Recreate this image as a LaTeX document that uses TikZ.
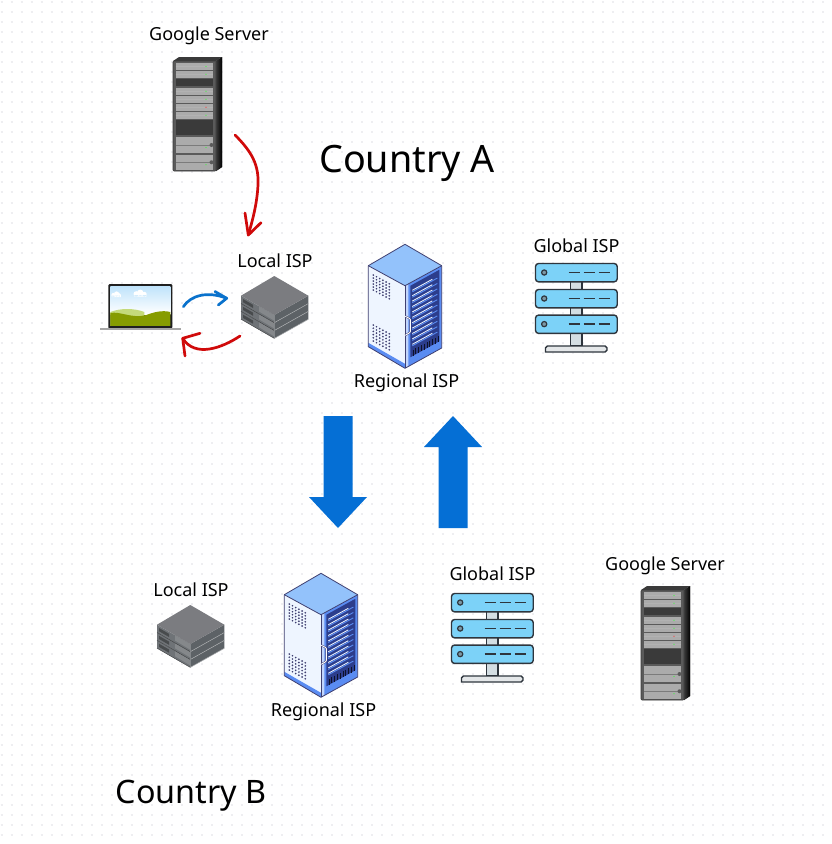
\documentclass[tikz,border=0pt]{standalone}
\usepackage{fontspec}
\setmainfont{Noto Sans}
\usetikzlibrary{arrows.meta}
\definecolor{gridc}{HTML}{EEEEF1}
\definecolor{bigblue}{HTML}{056FD5}
\definecolor{curvered}{HTML}{D00A0A}
\definecolor{curveblue}{HTML}{0A72CC}
\definecolor{rackbody}{HTML}{5A5A5A}
\definecolor{rackunit}{HTML}{ABABAB}
\definecolor{rackdark}{HTML}{3A3A3A}
\definecolor{cabtop}{HTML}{93C2FB}
\definecolor{cabside}{HTML}{EEF5FF}
\definecolor{cabline}{HTML}{3F3F70}
\definecolor{cabblue}{HTML}{5A8CF2}
\definecolor{cabdeep}{HTML}{2C3D8C}
\definecolor{srvblue}{HTML}{7CD2F8}
\definecolor{srvline}{HTML}{2E353D}
\definecolor{srvstem}{HTML}{D4DEE3}
\definecolor{srvbase}{HTML}{E4E7E9}
\definecolor{stktop}{HTML}{7B7C80}
\definecolor{stkleft}{HTML}{6F7377}
\definecolor{stkright}{HTML}{5D6266}
\definecolor{stkpanel}{HTML}{85888B}
\definecolor{skytop}{HTML}{BFE3FB}
\definecolor{hilllight}{HTML}{C4DA7A}
\definecolor{hilldark}{HTML}{869C00}
\tikzset{
  lbl/.style={inner sep=0pt,font=\fontsize{18}{21}\selectfont,text=black},
  titlea/.style={inner sep=0pt,font=\fontsize{37.7}{44}\selectfont,text=black},
  titleb/.style={inner sep=0pt,font=\fontsize{32.3}{38}\selectfont,text=black},
  handred/.style={draw=curvered,line width=2.7pt,line cap=round,line join=round},
  handblue/.style={draw=curveblue,line width=2.7pt,line cap=round,line join=round},
  bigarrow/.style={fill=bigblue,draw=none},
  pics/rackpic/.style={code={
    \fill[left color=rackdark,right color=black] (43,4) -- (49,0) -- (49,110) -- (43,114) -- cycle;
    \fill[rackdark] (0,4) -- (6,0) -- (49,0) -- (43,4) -- cycle;
    \fill[rackbody,draw=rackdark,line width=0.6pt,rounded corners=1pt] (0,4) rectangle (43,114);
    \foreach \a/\b/\l in {6/13/green,14/20.5/green,31/37.5/green,39/45.5/green,47/53.5/red,55/61.5/green}{
      \fill[rackunit] (2.5,\a) rectangle (40,\b);
      \draw[gray!60!white,line width=0.3pt] (2.5,{(\a+\b)/2}) -- (40,{(\a+\b)/2});
      \fill[\l!80!white] (33,{(\a+\b)/2}) circle (0.7);
    }
    \fill[rackdark] (2.5,22) rectangle (40,28.5);
    \fill[rackdark] (2.5,62.5) rectangle (40,78);
    \foreach \a/\b in {80/96,97.5/113}{
      \fill[rackunit] (2.5,\a) rectangle (40,\b);
      \draw[rackbody!80!white,line width=0.5pt] (2.5,{(\a+\b)/2}) -- (40,{(\a+\b)/2});
      \fill[rackbody] (38.5,{(\a+\b)/2}) circle (2);
      \fill[green!80!white] (33,{(\a+\b)/2+2.5}) circle (0.7);
    }
  }},
  pics/cabinet/.style={code={
    % left face
    \fill[cabside] (0,21.4) -- (36.7,41.4) -- (36.7,124) -- (0,102.4) -- cycle;
    \fill[cabblue] (0,98.5) -- (36.7,119.5) -- (36.7,124) -- (0,102.4) -- cycle;
    % right face
    \fill[cabblue] (36.7,41.4) -- (73.4,21.4) -- (73.4,103.7) -- (36.7,124) -- cycle;
    \fill[cabside!70!cabblue] (36.7,41.4) -- (40,39.6) -- (40,122.2) -- (36.7,124) -- cycle;
    \fill[cabdeep] (42,41.5) -- (71,25.5) -- (71,97) -- (42,113) -- cycle;
    \foreach \k in {0,...,10}{
      \draw[white!85!cabblue,line width=0.9pt] (44,{46+\k*5.4}) -- (64,{35+\k*5.4});
      \draw[cabblue,line width=0.9pt] (44,{47.5+\k*5.4}) -- (69,{33.8+\k*5.4});
    }
    \foreach \k in {0,...,9}{
      \draw[black!70!cabdeep,line width=0.6pt] ({44.5+\k*2.8},{105.6-\k*1.53}) -- ({44.5+\k*2.8},{111.6-\k*1.53});
    }
    % top
    \fill[cabtop] (36.7,0) -- (73.4,21.4) -- (36.7,41.4) -- (0,21.4) -- cycle;
    % vents
    \foreach \i in {0,...,5}{\foreach \j in {0,...,5}{
      \fill[cabline] ({5+\i*3.2},{24.1+\i*1.75+6.6+\j*3}) circle (0.95);
      \fill[cabline] ({5+\i*3.2},{24.1+\i*1.75+56.6+\j*3.2}) circle (0.95);
    }}
    % outline
    \draw[cabline,line width=0.8pt,line join=round] (36.7,0) -- (73.4,21.4) -- (73.4,103.7) -- (36.7,124) -- (0,102.4) -- (0,21.4) -- cycle;
    \draw[cabline,line width=0.8pt,line join=round] (0,21.4) -- (36.7,41.4) -- (73.4,21.4);
    \draw[cabline,line width=0.8pt] (36.7,41.4) -- (36.7,124);
    % handle
    \draw[cabline,line width=1.8pt,rounded corners=0.8pt] (37,72) -- (42,74.5) -- (42,88) -- (37,91);
    \draw[white,line width=0.9pt,rounded corners=0.8pt] (37,72) -- (42,74.5) -- (42,88) -- (37,91);
  }},
  pics/globalsrv/.style={code={
    \fill[srvstem,draw=srvline,line width=1.4pt] (34.8,16) rectangle (46.5,82.5);
    \foreach \y in {0,26,51.6}{
      \fill[srvblue,draw=srvline,line width=1.4pt,rounded corners=3pt] (0,\y) rectangle (81.7,{\y+18.3});
      \fill[srvstem!60!srvblue!70!black,draw=srvline,line width=1.2pt] (8.7,{\y+9}) circle (2.6);
      \foreach \d in {33,48,63}{
        \draw[srvline,line width=1.9pt] (\d,{\y+9}) -- ({\d+11},{\y+9});
      }
    }
    \fill[srvbase,draw=srvline,line width=1.4pt,rounded corners=1.8pt] (10,88.5) -- (10,82.5) -- (71.5,82.5) -- (71.5,88.5) [sharp corners] -- cycle;
  }},
  pics/stackbox/.style={code={
    \foreach \d in {15.7,7.8,0}{
      \fill[stkleft] (0,{19.7+\d}) -- (33.3,{39+\d}) -- (33.3,{46.7+\d}) -- (0,{27.5+\d}) -- cycle;
      \fill[stkright] (33.3,{39+\d}) -- (67.3,{19.7+\d}) -- (67.3,{27.6+\d}) -- (33.3,{46.7+\d}) -- cycle;
      \fill[stkpanel] (18,{30+\d}) -- (33,{38.8+\d}) -- (33,{44.5+\d}) -- (18,{35.5+\d}) -- cycle;
      \fill[black!35!stkleft] (2,{23+\d}) -- (12,{28.8+\d}) -- (12,{32+\d}) -- (2,{26.2+\d}) -- cycle;
      \draw[stkpanel!70!white,line width=0.5pt] (33.3,{46.7+\d}) -- (67.3,{27.6+\d});
      \draw[black!50!stkleft,line width=0.4pt] (0,{27.5+\d}) -- (33.3,{46.7+\d});
    }
    \fill[stktop] (33.3,0) -- (67.3,19.7) -- (33.3,39) -- (0,19.7) -- cycle;
  }},
  pics/laptoppic/.style={code={
    \fill[black!88,rounded corners=1.2pt] (0,0) rectangle (64,44.5);
    \begin{scope}
      \clip (2,2) rectangle (62,41.5);
      \shade[top color=skytop,bottom color=white] (2,2) rectangle (62,30);
      \fill[white] (5,11) circle (2) (8.3,10) circle (2.6) (11,11) circle (1.8) (3.5,11.5) rectangle (12.5,13);
      \fill[white] (28,10) circle (2.8) (32,8.8) circle (3.2) (36,10.2) circle (2.4) (26,10.8) rectangle (38,12.6);
      \fill[hilllight] (2,28) .. controls (12,24) and (26,24) .. (36,28) -- (36,42) -- (2,42) -- cycle;
      \fill[hilldark] (2,29) .. controls (12,27) and (24,35) .. (38,31) .. controls (46,28) and (54,26) .. (62,28) -- (62,42) -- (2,42) -- cycle;
    \end{scope}
    \fill[black!35] (-8.3,43.8) rectangle (72.7,46.3);
  }}
}
\begin{document}
\begin{tikzpicture}[x=1pt,y=-1pt]
\useasboundingbox (0,0) rectangle (831,844);
\fill[white] (0,0) rectangle (831,844);
% dotted canvas
\foreach \j in {0,...,83}{
  \draw[gridc,line width=2pt,dash pattern=on 2pt off 8.02pt] (0.7,{1.7+\j*10.04}) -- (831,{1.7+\j*10.04});
}
% pics
\pic (rackA) at (173,57) {rackpic};
\pic (rackB) at (641,586) {rackpic};
\pic (cabA) at (368.3,244.3) {cabinet};
\pic (cabB) at (284.3,573.3) {cabinet};
\pic (gloA) at (535.5,263.5) {globalsrv};
\pic (gloB) at (451.5,593.5) {globalsrv};
\pic (stkA) at (241,276) {stackbox};
\pic (stkB) at (157,605) {stackbox};
\pic (lap) at (108.3,284) {laptoppic};
% labels
\node[lbl] (tGA) at (209,36) {Google Server};
\node[lbl] (tGB) at (665,566) {Google Server};
\node[lbl] (tLA) at (275,260.5) {Local ISP};
\node[lbl] (tLB) at (191,589.5) {Local ISP};
\node[lbl] (tRA) at (406.5,383) {Regional ISP};
\node[lbl] (tRB) at (323.5,712) {Regional ISP};
\node[lbl] (tWA) at (576.5,245.5) {Global ISP};
\node[lbl] (tWB) at (492.5,574) {Global ISP};
\node[titlea] (cA) at (407,163) {Country A};
\node[titleb] (cB) at (191,796) {Country B};
% hand arrows
\coordinate (r1s) at (235,135);
\coordinate (r1e) at (248.3,235);
\coordinate (r1a) at (245,213);
\coordinate (r1b) at (261,222.7);
\draw[handred] (r1s) .. controls (252,152) and (259,165) .. (258,185) .. controls (257,205) and (252,222) .. (r1e);
\draw[handred] (r1a) -- (r1e) -- (r1b);
\coordinate (b1s) at (183.3,306.7);
\coordinate (b1e) at (226.7,298.3);
\coordinate (b1a) at (215,291.5);
\coordinate (b1b) at (218.3,305);
\draw[handblue] (b1s) .. controls (191,295) and (208,291) .. (b1e);
\draw[handblue] (b1a) -- (b1e) -- (b1b);
\coordinate (r2s) at (240,336);
\coordinate (r2e) at (182.7,338.3);
\coordinate (r2a) at (200,333.3);
\coordinate (r2b) at (185,356);
\draw[handred] (r2s) .. controls (222,348) and (195,358) .. (r2e);
\draw[handred] (r2a) -- (r2e) -- (r2b);
% big arrows
\fill[bigarrow] (323.5,416) -- (352.5,416) -- (352.5,497) -- (367,497) -- (338,528) -- (309,497) -- (323.5,497) -- cycle;
\fill[bigarrow] (438.5,528) -- (467.5,528) -- (467.5,447) -- (482,447) -- (453,416) -- (424,447) -- (438.5,447) -- cycle;
\end{tikzpicture}
\end{document}
